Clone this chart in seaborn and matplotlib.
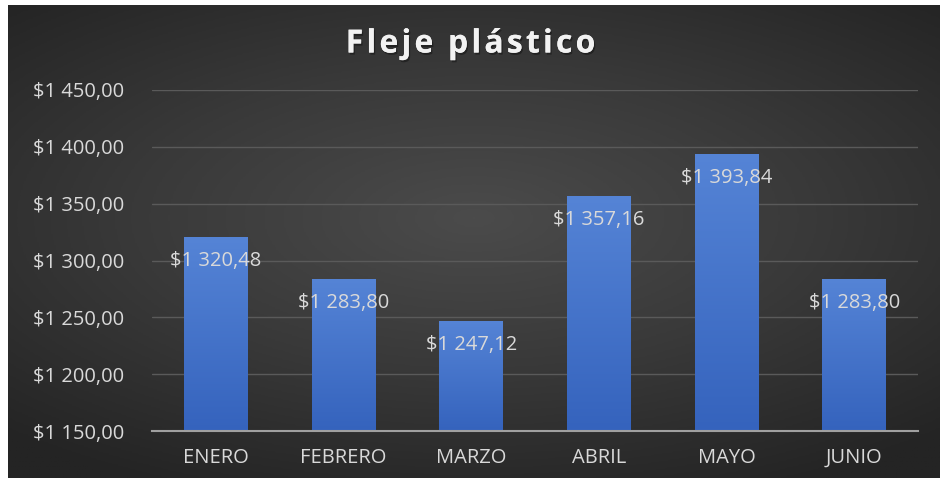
import numpy as np
import pandas as pd
import matplotlib
matplotlib.use("Agg")
import matplotlib.pyplot as plt
import matplotlib.patheffects as pe
from matplotlib.colors import LinearSegmentedColormap
import seaborn as sns

meses = ["ENERO", "FEBRERO", "MARZO", "ABRIL", "MAYO", "JUNIO"]
valores = [1320.48, 1283.80, 1247.12, 1357.16, 1393.84, 1283.80]
y_ticks = [1150, 1200, 1250, 1300, 1350, 1400, 1450]
titulo = "Fleje plástico"

df = pd.DataFrame({"mes": meses, "valor": valores})


def pesos(v):
    s = f"{v:,.2f}"  # 1,320.48
    ent, dec = s.split(".")
    return "$" + ent.replace(",", " ") + "," + dec


sns.set_theme(style="dark")
plt.rcParams["font.family"] = ["Open Sans", "DejaVu Sans"]

W, H = 942, 478
fig = plt.figure(figsize=(W / 100, H / 100), dpi=100, facecolor="white")

# fondo con degradado radial (hay un pequeño margen blanco arriba/izquierda)
bg = fig.add_axes([8 / W, 0, (W - 10) / W, (H - 5) / H], zorder=0)
yy, xx = np.mgrid[-1:1:300j, -1:1:600j]
r = np.sqrt((xx * 0.95) ** 2 + ((yy + 0.1) * 1.1) ** 2)
bg_cmap = LinearSegmentedColormap.from_list("bg", ["#4b4b4b", "#393939", "#242424"])
bg.imshow(r, cmap=bg_cmap, aspect="auto", extent=[0, 1, 0, 1], vmin=0, vmax=1.4)
bg.axis("off")

ax = fig.add_axes([152 / W, (H - 431) / H, (918 - 152) / W, (431 - 90) / H], zorder=1)
ax.patch.set_alpha(0)

sns.barplot(data=df, x="mes", y="valor", color="#4472c4", width=0.5, ax=ax, zorder=2)
ax.set_ylim(1150, 1450)
ax.set_yticks(y_ticks)
ax.set_yticklabels([pesos(t) for t in y_ticks], color="#d9d9d9", fontsize=14.5)
ax.tick_params(axis="x", colors="#d9d9d9", labelsize=14.5, pad=12, length=0)
ax.tick_params(axis="y", pad=20, length=0)
ax.set_xlabel("")
ax.set_ylabel("")

ax.grid(axis="y", color="#5a5a5a", linewidth=1)
ax.set_axisbelow(True)
for s in ["top", "right", "left"]:
    ax.spines[s].set_visible(False)
ax.spines["bottom"].set_color("#a0a0a0")
ax.spines["bottom"].set_linewidth(1.5)
ax.spines["bottom"].set_zorder(5)

# degradado en las barras
bar_cmap = LinearSegmentedColormap.from_list("bar", ["#3563bd", "#5584d6"])
grad = np.linspace(0, 1, 256).reshape(-1, 1)
for p in ax.patches:
    x0, y0 = p.get_x(), p.get_y()
    w, h = p.get_width(), p.get_height()
    p.set_facecolor("none")
    p.set_edgecolor("none")
    im = ax.imshow(grad, cmap=bar_cmap, aspect="auto", origin="lower",
                   extent=[x0, x0 + w, 1150, y0 + h], zorder=2)
    im.set_clip_path(p)

ax.set_xlim(-0.5, len(meses) - 0.5)
ax.set_ylim(1150, 1450)

for i, v in enumerate(valores):
    ax.annotate(pesos(v), (i, v), xytext=(0, -24), textcoords="offset pixels",
                ha="center", va="center", color="#d9d9d9", fontsize=14.5, zorder=4)

# título con letras algo espaciadas y sombra suave
t = fig.text(0.5, 1 - 44 / H, "\u200a".join(titulo), ha="center", va="center",
             color="#f2f2f2", fontsize=23, fontweight="bold")
t.set_path_effects([pe.withSimplePatchShadow(offset=(1, -1.5), shadow_rgbFace="black", alpha=0.35),
                    pe.Normal()])

fig.savefig("out.png", dpi=100, facecolor="white")
